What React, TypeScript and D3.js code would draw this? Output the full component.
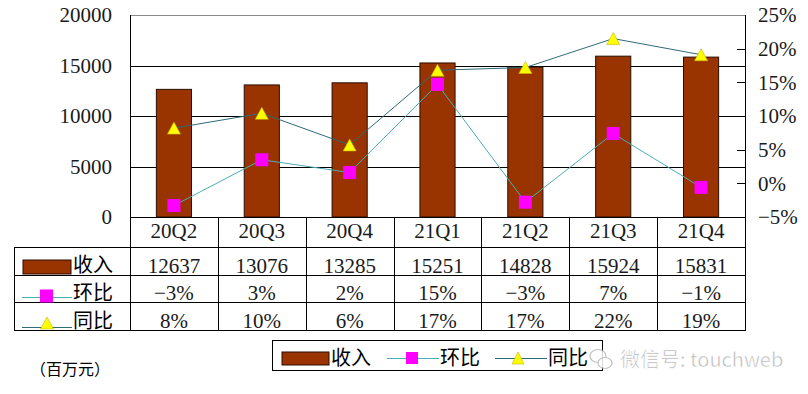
import React from "react";
import * as d3 from "d3";

// quarterly revenue (百万元) and growth rates
const categories = ["20Q2", "20Q3", "20Q4", "21Q1", "21Q2", "21Q3", "21Q4"];
const revenue = [12637, 13076, 13285, 15251, 14828, 15924, 15831];
const qoq = [-3.3, 3.5, 1.6, 14.7, -2.8, 7.4, -0.6];
const yoy = [8.2, 10.4, 5.7, 16.8, 17.2, 21.5, 19.1];
const qoqLabels = ["−3%", "3%", "2%", "15%", "−3%", "7%", "−1%"];
const yoyLabels = ["8%", "10%", "6%", "17%", "17%", "22%", "19%"];
const leftTicks = [0, 5000, 10000, 15000, 20000];
const rightTicks = [-5, 0, 5, 10, 15, 20, 25];

const W = 808;
const H = 394;
const serif = "'Liberation Serif', 'Times New Roman', serif";
const cjk = "'Noto Sans CJK SC', sans-serif";

const BAR = "#993300";
const QOQ_LINE = "#4aaeb6";
const YOY_LINE = "#2e6b78";
const SQ = "#ff00ff";
const TRI = "#ffff00";
const INK = "#1a1a1a";

const left = 130;
const right = 745;
const top = 15;
const base = 217;
const rows = [217, 247, 275, 302, 330];
const tableLeft = 14;

const Square = ({ x, y, s = 13 }: { x: number; y: number; s?: number }) => (
  <rect x={x - s / 2} y={y - s / 2} width={s} height={s} fill={SQ} />
);

const Triangle = ({ x, y, w = 13, h = 12 }: { x: number; y: number; w?: number; h?: number }) => (
  <path
    d={`M${x},${y - h / 2}L${x + w / 2},${y + h / 2}L${x - w / 2},${y + h / 2}Z`}
    fill={TRI}
    stroke="#c8b400"
    strokeWidth={0.6}
  />
);

export default function App() {
  const x = d3.scaleBand<string>().domain(categories).range([left, right]).padding(0);
  const yL = d3.scaleLinear().domain([0, 20000]).range([base, top]);
  const yR = d3.scaleLinear().domain([-5, 25]).range([base, top]);
  const cx = (c: string) => (x(c) as number) + x.bandwidth() / 2;
  const barW = x.bandwidth() * 0.4;

  const line = d3
    .line<number>()
    .x((_, i) => cx(categories[i]))
    .y((d) => yR(d));

  return (
    <svg
      width={W}
      height={H}
      style={{ position: "absolute", left: 0, top: 0, background: "#fff" }}
    >
      {/* plot frame + grid */}
      <line x1={left} x2={right} y1={top + 0.5} y2={top + 0.5} stroke="#8a8a8a" />
      {leftTicks.slice(1, -1).map((t) => (
        <line key={t} x1={left} x2={right} y1={Math.round(yL(t)) + 0.5} y2={Math.round(yL(t)) + 0.5} stroke="#000" />
      ))}
      {rightTicks.slice(0, -1).map((t) => (
        <line key={t} x1={right - 8} x2={right} y1={Math.round(yR(t)) + 0.5} y2={Math.round(yR(t)) + 0.5} stroke="#000" />
      ))}

      {/* bars */}
      {revenue.map((v, i) => (
        <rect
          key={i}
          x={cx(categories[i]) - barW / 2}
          y={yL(v)}
          width={barW}
          height={yL(0) - yL(v)}
          fill={BAR}
          stroke="#2a0e00"
          strokeWidth={1}
        />
      ))}

      {/* lines + markers */}
      <path d={line(yoy) as string} fill="none" stroke={YOY_LINE} strokeWidth={1} />
      <path d={line(qoq) as string} fill="none" stroke={QOQ_LINE} strokeWidth={1} />
      {qoq.map((v, i) => (
        <Square key={i} x={cx(categories[i])} y={yR(v)} />
      ))}
      {yoy.map((v, i) => (
        <Triangle key={i} x={cx(categories[i])} y={yR(v)} />
      ))}

      {/* left axis labels */}
      {leftTicks.map((t) => (
        <text key={t} x={112} y={yL(t)} dy="0.35em" textAnchor="end" fontFamily={serif} fontSize={21} fill={INK}>
          {t}
        </text>
      ))}
      {/* right axis labels */}
      {rightTicks.map((t) => (
        <text key={t} x={758} y={yR(t)} dy="0.35em" textAnchor="start" fontFamily={serif} fontSize={21} fill={INK}>
          {t < 0 ? "−" + Math.abs(t) + "%" : t + "%"}
        </text>
      ))}

      {/* data table */}
      <g stroke="#000" strokeWidth={1}>
        <line x1={left} x2={right} y1={rows[0] + 0.5} y2={rows[0] + 0.5} />
        {rows.slice(1).map((r) => (
          <line key={r} x1={tableLeft} x2={right} y1={r + 0.5} y2={r + 0.5} />
        ))}
        <line x1={tableLeft + 0.5} x2={tableLeft + 0.5} y1={rows[1]} y2={rows[4] + 1} />
        <line x1={left + 0.5} x2={left + 0.5} y1={top} y2={rows[4] + 1} />
        {categories.map((c) => (
          <line
            key={c}
            x1={Math.round((x(c) as number) + x.bandwidth()) + 0.5}
            x2={Math.round((x(c) as number) + x.bandwidth()) + 0.5}
            y1={c === categories[categories.length - 1] ? top : rows[0]}
            y2={rows[4] + 1}
          />
        ))}
      </g>
      {categories.map((c) => (
        <text key={c} x={cx(c)} y={238} textAnchor="middle" fontFamily={serif} fontSize={21} fill={INK}>
          {c}
        </text>
      ))}
      {revenue.map((v, i) => (
        <text key={i} x={cx(categories[i])} y={rows[2] - 2} textAnchor="middle" fontFamily={serif} fontSize={21} fill={INK}>
          {v}
        </text>
      ))}
      {qoqLabels.map((v, i) => (
        <text key={i} x={cx(categories[i])} y={rows[3] - 2} textAnchor="middle" fontFamily={serif} fontSize={21} fill={INK}>
          {v}
        </text>
      ))}
      {yoyLabels.map((v, i) => (
        <text key={i} x={cx(categories[i])} y={rows[4] - 2} textAnchor="middle" fontFamily={serif} fontSize={21} fill={INK}>
          {v}
        </text>
      ))}

      {/* table row keys */}
      <rect x={23} y={260} width={48} height={14} fill={BAR} stroke="#2a0e00" />
      <text x={73} y={272} fontFamily={cjk} fontSize={20}>收入</text>
      <line x1={22} x2={72} y1={297.5} y2={297.5} stroke={QOQ_LINE} />
      <Square x={46.5} y={296} />
      <text x={73} y={300} fontFamily={cjk} fontSize={20}>环比</text>
      <line x1={22} x2={72} y1={327.5} y2={327.5} stroke={YOY_LINE} />
      <Triangle x={47} y={323} />
      <text x={73} y={328} fontFamily={cjk} fontSize={20}>同比</text>

      {/* unit */}
      <text x={30} y={375} fontFamily={cjk} fontSize={16}>（百万元）</text>

      {/* legend */}
      <rect x={272.5} y={340.5} width={330} height={30} fill="#fff" stroke="#000" />
      <rect x={282} y={352} width={47} height={13} fill={BAR} stroke="#2a0e00" />
      <text x={331} y={365} fontFamily={cjk} fontSize={20}>收入</text>
      <line x1={387} x2={439} y1={358.5} y2={358.5} stroke={QOQ_LINE} />
      <Square x={412} y={358} s={12} />
      <text x={440} y={365} fontFamily={cjk} fontSize={20}>环比</text>
      <line x1={495} x2={547} y1={358.5} y2={358.5} stroke={YOY_LINE} />
      <Triangle x={518} y={358} w={12} h={12} />
      <text x={548} y={365} fontFamily={cjk} fontSize={20}>同比</text>

      {/* watermark */}
      <g opacity={0.85}>
        <ellipse cx={598} cy={356} rx={8} ry={6.5} fill="#fff" stroke="#b5b5b5" strokeWidth={1.2} />
        <ellipse cx={605} cy={363} rx={7} ry={5.5} fill="#fff" stroke="#b5b5b5" strokeWidth={1.2} />
        <text
          x={620}
          y={367}
          fontFamily={cjk}
          fontSize={20}
          fill="#a8a8a8"
          stroke="#fff"
          strokeWidth={0.6}
        >
          微信号: touchweb
        </text>
      </g>
    </svg>
  );
}
